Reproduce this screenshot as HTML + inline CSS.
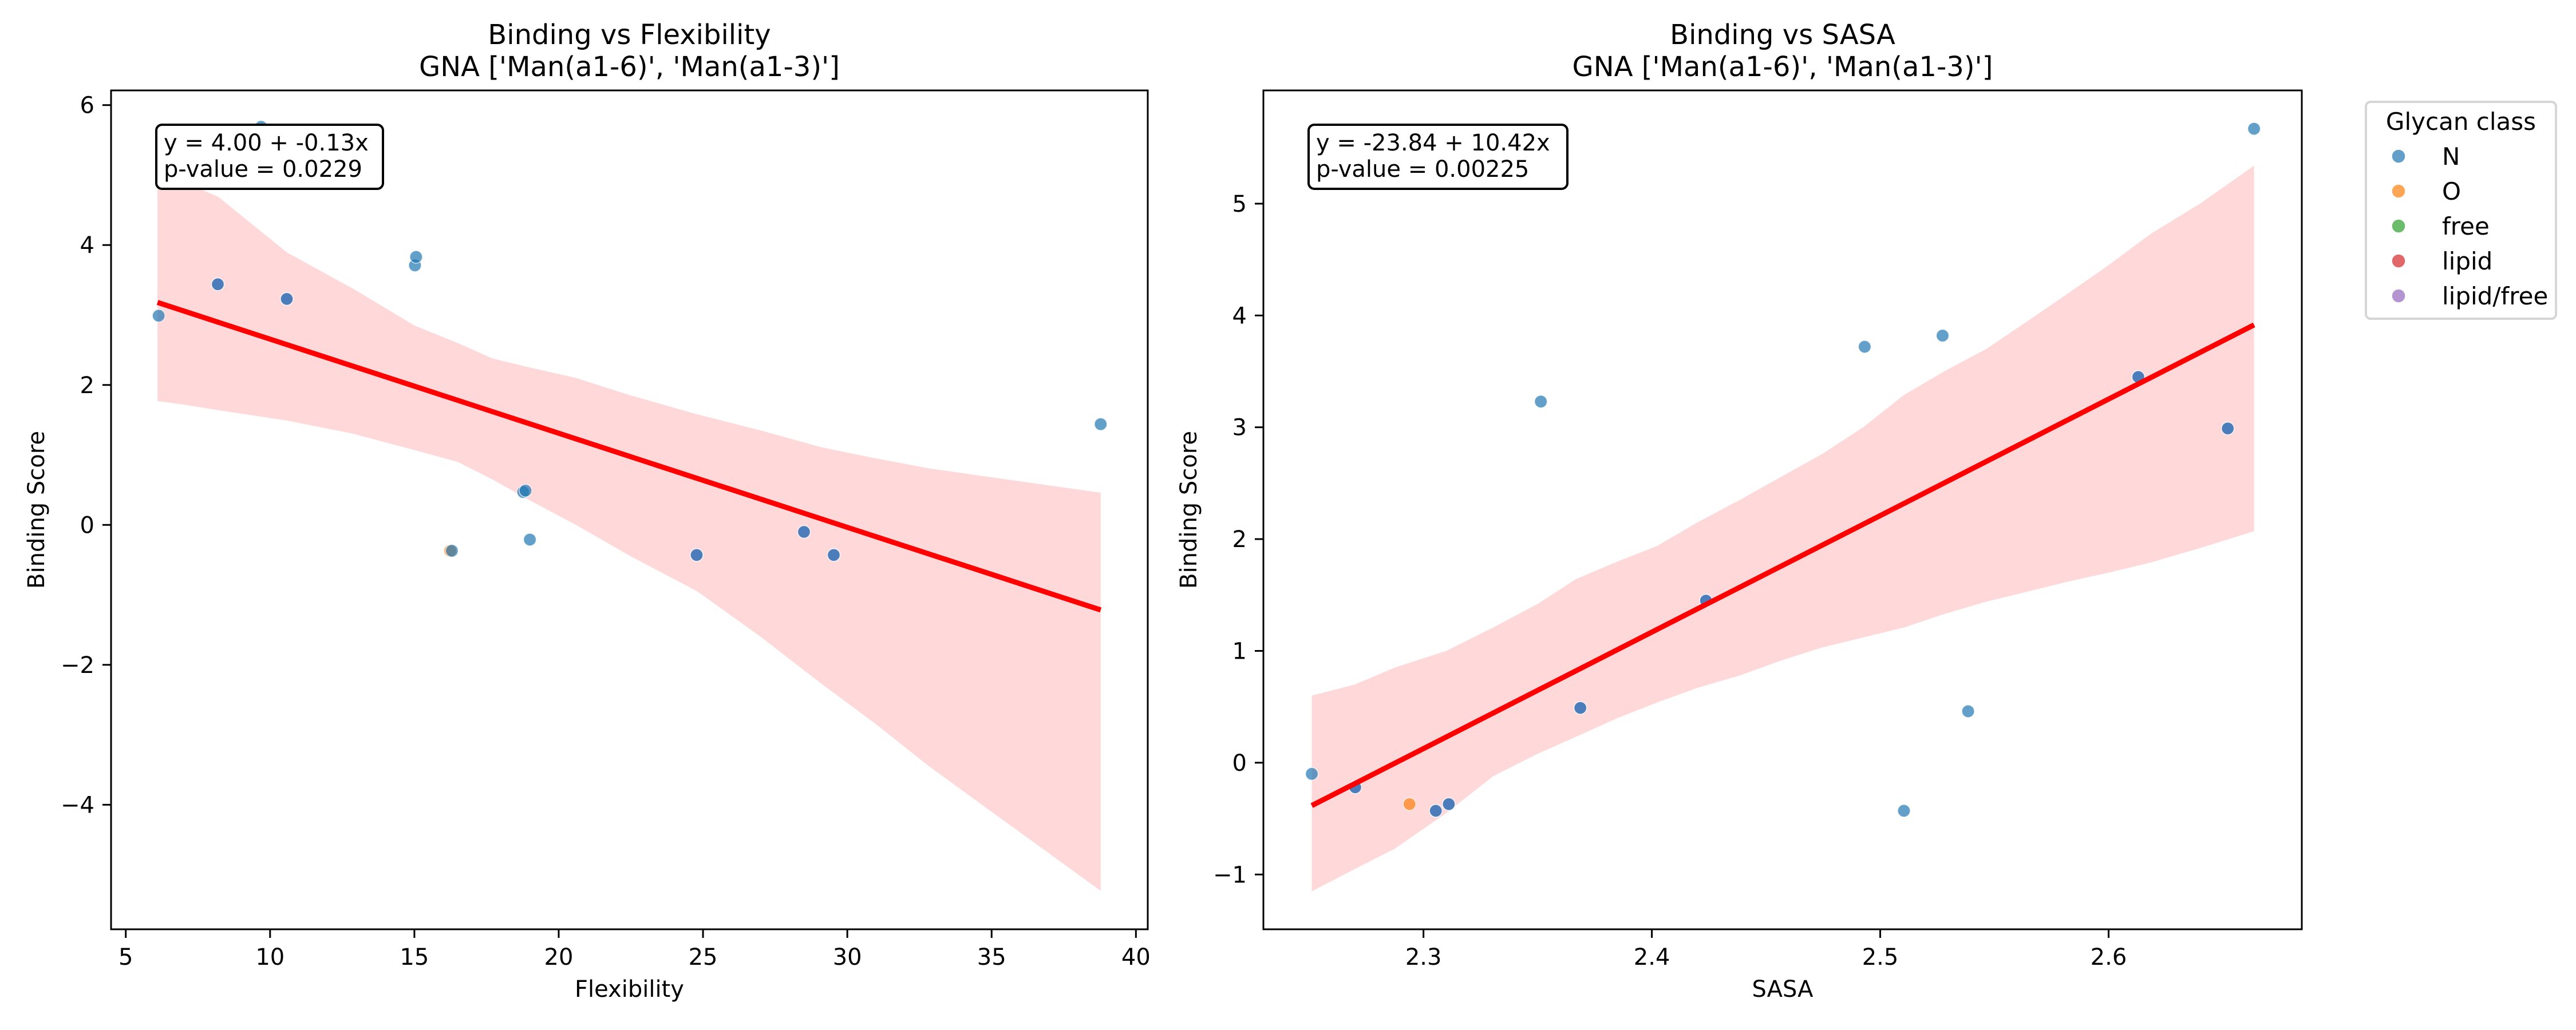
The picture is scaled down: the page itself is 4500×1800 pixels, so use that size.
<!DOCTYPE html>
<html><head><meta charset="utf-8"><style>
html,body{margin:0;padding:0;background:#fff;}
svg{display:block;font-family:"DejaVu Sans","Liberation Sans",sans-serif;}
</style></head><body>
<svg id="fig" width="4500" height="1800" viewBox="0 0 4500 1800" xmlns="http://www.w3.org/2000/svg"></svg>
<script>
// ---------- data: left panel (Flexibility) ----------
const flexX = [6.14, 8.19, 8.19, 9.69, 10.58, 10.58, 15.02, 15.06, 16.24, 16.3, 18.77, 18.85, 19.0, 24.78, 24.78, 28.5, 28.5, 29.53, 29.53, 38.78];
const flexY = [2.99, 3.44, 3.44, 5.69, 3.23, 3.23, 3.71, 3.83, -0.37, -0.37, 0.47, 0.49, -0.21, -0.43, -0.43, -0.1, -0.1, -0.43, -0.43, 1.44];
const flexCls = ["N","lipid/free","N","N","lipid/free","N","N","N","O","N","N","N","N","lipid/free","N","lipid/free","N","lipid/free","N","N"];
const flexBandX = [6.1, 7.0, 8.2, 10.6, 12.9, 15.0, 16.5, 17.7, 19.0, 20.6, 22.5, 24.8, 27.0, 29.1, 31.0, 32.8, 35.0, 38.78];
const flexBandHi = [5.0, 4.9, 4.69, 3.89, 3.37, 2.85, 2.6, 2.38, 2.25, 2.1, 1.85, 1.58, 1.35, 1.11, 0.95, 0.81, 0.68, 0.46];
const flexBandLo = [1.77, 1.72, 1.64, 1.49, 1.3, 1.07, 0.9, 0.65, 0.35, 0.0, -0.45, -0.95, -1.6, -2.27, -2.85, -3.44, -4.1, -5.23];
const flexFit = [4.0, -0.1345];
const flexXTicks = [5, 10, 15, 20, 25, 30, 35, 40];
const flexYTicks = [-4, -2, 0, 2, 4, 6];
// ---------- data: right panel (SASA) ----------
const sasaX = [2.2511, 2.2701, 2.2701, 2.2939, 2.3054, 2.3054, 2.3111, 2.3111, 2.3514, 2.3687, 2.3687, 2.4237, 2.4237, 2.4932, 2.5104, 2.5273, 2.5385, 2.613, 2.613, 2.6522, 2.6522, 2.6637];
const sasaY = [-0.1, -0.22, -0.22, -0.37, -0.43, -0.43, -0.37, -0.37, 3.23, 0.49, 0.49, 1.45, 1.45, 3.72, -0.43, 3.82, 0.46, 3.45, 3.45, 2.99, 2.99, 5.67];
const sasaCls = ["N","lipid/free","N","O","lipid/free","N","lipid/free","N","N","lipid/free","N","lipid/free","N","N","N","N","N","lipid/free","N","lipid/free","N","N"];
const sasaBandX = [2.2511, 2.27, 2.2874, 2.31, 2.3306, 2.35, 2.3666, 2.385, 2.4025, 2.42, 2.4385, 2.456, 2.4745, 2.4925, 2.5105, 2.528, 2.5464, 2.5645, 2.5824, 2.6, 2.6184, 2.64, 2.6637];
const sasaBandHi = [0.6, 0.7, 0.85, 1.0, 1.21, 1.42, 1.64, 1.8, 1.94, 2.15, 2.35, 2.55, 2.76, 3.0, 3.29, 3.5, 3.7, 3.95, 4.2, 4.45, 4.73, 5.0, 5.34];
const sasaBandLo = [-1.15, -0.95, -0.77, -0.45, -0.12, 0.08, 0.23, 0.4, 0.54, 0.67, 0.78, 0.91, 1.03, 1.12, 1.21, 1.33, 1.44, 1.53, 1.62, 1.7, 1.79, 1.92, 2.07];
const sasaFit = [-23.84, 10.42];
const sasaXTicks = [2.3, 2.4, 2.5, 2.6];
const sasaYTicks = [-1, 0, 1, 2, 3, 4, 5];
// ---------- legend ----------
const legendLabels = ["N", "O", "free", "lipid", "lipid/free"];
const legendColors = ["#1f77b4", "#ff7f0e", "#2ca02c", "#d62728", "#9467bd"];

const NS = "http://www.w3.org/2000/svg";
const fig = document.getElementById('fig');
function mk(tag, attrs, parent, text) {
  const e = document.createElementNS(NS, tag);
  for (const k in attrs) e.setAttribute(k, attrs[k]);
  if (text !== undefined) e.textContent = text;
  (parent || fig).appendChild(e);
  return e;
}
function colorOf(c) { return legendColors[legendLabels.indexOf(c)]; }
function fmtTick(v) { return (v < 0 ? "\u2212" : "") + Math.abs(v).toString(); }

function panel(cfg) {
  const g = mk('g', {});
  
  
  const L = cfg.left, R = cfg.right, T = 158, B = 1624;
  const sx = v => L + (v - cfg.xmin) / (cfg.xmax - cfg.xmin) * (R - L);
  const sy = v => B - (v - cfg.ymin) / (cfg.ymax - cfg.ymin) * (B - T);
  let d = "";
  cfg.bx.forEach((x, i) => { d += (i ? "L" : "M") + sx(x).toFixed(1) + "," + sy(cfg.bh[i]).toFixed(1); });
  for (let i = cfg.bx.length - 1; i >= 0; i--) d += "L" + sx(cfg.bx[i]).toFixed(1) + "," + sy(cfg.bl[i]).toFixed(1);
  const band = mk('path', { d: d + "Z", fill: "#ffd8d9" }, g);
  
  
  cfg.px.forEach((x, i) => {
    const c = mk('circle', { cx: sx(x).toFixed(1), cy: sy(cfg.py[i]).toFixed(1), r: 11, fill: colorOf(cfg.pc[i]), 'fill-opacity': 0.7, stroke: "#fff", 'stroke-width': 1.5, 'stroke-opacity': 0.7 }, g);
    
    
  });
  const x0 = cfg.bx[0], x1 = cfg.bx[cfg.bx.length - 1];
  const ln = mk('line', { x1: sx(x0), y1: sy(cfg.fit[0] + cfg.fit[1] * x0), x2: sx(x1), y2: sy(cfg.fit[0] + cfg.fit[1] * x1), stroke: "#ff0000", 'stroke-width': 9 }, g);
  
  
  const fr = mk('rect', { x: L, y: T, width: R - L, height: B - T, fill: "none", stroke: "#000", 'stroke-width': 3 }, g);
  
  
  cfg.xt.forEach(v => {
    const X = sx(v);
    const t = mk('line', { x1: X, y1: B, x2: X, y2: B + 15, stroke: "#000", 'stroke-width': 3 }, g);
    
    
    const tl = mk('text', { x: X, y: 1686, 'font-size': 40, 'text-anchor': 'middle' }, g, v.toString());
    
    
  });
  cfg.yt.forEach(v => {
    const Y = sy(v);
    const t = mk('line', { x1: L - 15, y1: Y, x2: L, y2: Y, stroke: "#000", 'stroke-width': 3 }, g);
    
    
    const tl = mk('text', { x: L - 29, y: Y + 14, 'font-size': 40, 'text-anchor': 'end' }, g, fmtTick(v));
    
    
  });
  const cx = (L + R) / 2;
  const t1 = mk('text', { x: cx, y: 77, 'font-size': 48, 'text-anchor': 'middle' }, g, cfg.title);
  
  
  const t2 = mk('text', { x: cx, y: 133, 'font-size': 48, 'text-anchor': 'middle' }, g, "GNA ['Man(a1-6)', 'Man(a1-3)']");
  
  
  const xl = mk('text', { x: cx, y: 1742, 'font-size': 40, 'text-anchor': 'middle' }, g, cfg.xlabel);
  
  
  const yx = cfg.ylabelX;
  const yl = mk('text', { x: yx, y: 891, 'font-size': 40, 'text-anchor': 'middle', transform: `rotate(-90 ${yx} 891)` }, g, "Binding Score");
  
  
  const bx = mk('rect', { x: L + 79, y: 218, width: cfg.boxW, height: 112, rx: 10, fill: "#fff", stroke: "#000", 'stroke-width': 4 }, g);
  
  
  const a1 = mk('text', { x: L + 92, y: 263, 'font-size': 40 }, g, cfg.eq);
  
  
  const a2 = mk('text', { x: L + 92, y: 309, 'font-size': 40 }, g, cfg.pv);
  
  
}

panel({ name: 'flexibility-panel', left: 194, right: 2005, xmin: 4.49, xmax: 40.41, ymin: -5.78, ymax: 6.21,
  px: flexX, py: flexY, pc: flexCls, bx: flexBandX, bh: flexBandHi, bl: flexBandLo, fit: flexFit,
  xt: flexXTicks, yt: flexYTicks, title: "Binding vs Flexibility", xlabel: "Flexibility", ylabelX: 77,
  eq: "y = 4.00 + -0.13x", pv: "p-value = 0.0229", boxW: 396 });
panel({ name: 'sasa-panel', left: 2207, right: 4021, xmin: 2.2299, xmax: 2.6846, ymin: -1.49, ymax: 6.013,
  px: sasaX, py: sasaY, pc: sasaCls, bx: sasaBandX, bh: sasaBandHi, bl: sasaBandLo, fit: sasaFit,
  xt: sasaXTicks, yt: sasaYTicks, title: "Binding vs SASA", xlabel: "SASA", ylabelX: 2090,
  eq: "y = -23.84 + 10.42x", pv: "p-value = 0.00225", boxW: 452 });

const lg = mk('g', {});


mk('rect', { x: 4133, y: 178, width: 332, height: 379, rx: 8, fill: "#fff", stroke: "#d6d6d6", 'stroke-width': 4 }, lg);
const lt = mk('text', { x: 4299, y: 227, 'font-size': 42, 'text-anchor': 'middle' }, lg, "Glycan class");


legendLabels.forEach((lab, i) => {
  const y = 273 + i * 61;
  const e = mk('g', {}, lg);
  
  
  mk('circle', { cx: 4190, cy: y, r: 12, fill: legendColors[i], 'fill-opacity': 0.7, stroke: "#fff", 'stroke-width': 1.5 }, e);
  mk('text', { x: 4266, y: y + 15, 'font-size': 42 }, e, lab);
});
</script>
</body></html>
